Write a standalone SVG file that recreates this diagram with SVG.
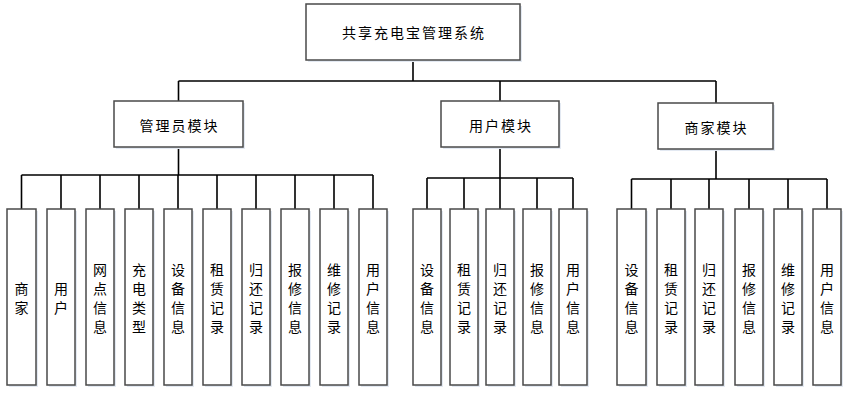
<svg xmlns="http://www.w3.org/2000/svg" width="852" height="399" viewBox="0 0 852 399">
<style>
.box{fill:#fff;stroke:#4a4a4a;stroke-width:1.5}
.sh{fill:#e3e9f2}
.ln{fill:none;stroke:#000;stroke-width:1.6}
text{font-family:"Noto Sans CJK SC","Noto Sans",sans-serif;font-size:14px;fill:#000;text-anchor:middle;dominant-baseline:central}
.h{letter-spacing:2px}
</style>
<rect width="852" height="399" fill="#fff"/>
<g id="connectors">
<path class="ln" d="M413 60V81M178.5 81H716M178.5 81V101M500 81V101M716 81V103"/>
<path class="ln" d="M178.5 147V175M21.5 175H373M21.5 175V209M61 175V209M100 175V209M139 175V209M178 175V209M217 175V209M256 175V209M295 175V209M334 175V209M373 175V209"/>
<path class="ln" d="M500 147V178M427 178H573M427 178V209M464 178V209M500 178V209M537 178V209M573 178V209"/>
<path class="ln" d="M716 149V179M631.5 179H827M631.5 179V209M671 179V209M709 179V209M749 179V209M788 179V209M827 179V209"/>
</g>
<g id="root"><rect class="sh" x="308" y="6" width="214" height="56"/><rect class="box" x="306" y="4" width="214" height="56"/><text class="h" x="414" y="32">共享充电宝管理系统</text></g>
<g id="admin"><rect class="sh" x="116" y="103" width="129" height="46"/><rect class="box" x="114" y="101" width="129" height="46"/><text class="h" x="179.5" y="125">管理员模块</text></g>
<g id="user"><rect class="sh" x="443" y="103" width="118" height="46"/><rect class="box" x="441" y="101" width="118" height="46"/><text class="h" x="501" y="125">用户模块</text></g>
<g id="merchant"><rect class="sh" x="660" y="105" width="115" height="46"/><rect class="box" x="658" y="103" width="115" height="46"/><text class="h" x="716.5" y="127">商家模块</text></g>

<g id="a1"><rect class="sh" x="9" y="211" width="29" height="176"/><rect class="box" x="7" y="209" width="29" height="176"/><text x="21.5" y="287.5">商<tspan x="21.5" dy="19">家</tspan></text></g>
<g id="a2"><rect class="sh" x="49" y="211" width="28" height="176"/><rect class="box" x="47" y="209" width="28" height="176"/><text x="61" y="287.5">用<tspan x="61" dy="19">户</tspan></text></g>
<g id="a3"><rect class="sh" x="88" y="211" width="28" height="176"/><rect class="box" x="86" y="209" width="28" height="176"/><text x="100" y="268.5">网<tspan x="100" dy="19">点</tspan><tspan x="100" dy="19">信</tspan><tspan x="100" dy="19">息</tspan></text></g>
<g id="a4"><rect class="sh" x="127" y="211" width="28" height="176"/><rect class="box" x="125" y="209" width="28" height="176"/><text x="139" y="268.5">充<tspan x="139" dy="19">电</tspan><tspan x="139" dy="19">类</tspan><tspan x="139" dy="19">型</tspan></text></g>
<g id="a5"><rect class="sh" x="166" y="211" width="28" height="176"/><rect class="box" x="164" y="209" width="28" height="176"/><text x="178" y="268.5">设<tspan x="178" dy="19">备</tspan><tspan x="178" dy="19">信</tspan><tspan x="178" dy="19">息</tspan></text></g>
<g id="a6"><rect class="sh" x="205" y="211" width="28" height="176"/><rect class="box" x="203" y="209" width="28" height="176"/><text x="217" y="268.5">租<tspan x="217" dy="19">赁</tspan><tspan x="217" dy="19">记</tspan><tspan x="217" dy="19">录</tspan></text></g>
<g id="a7"><rect class="sh" x="244" y="211" width="28" height="176"/><rect class="box" x="242" y="209" width="28" height="176"/><text x="256" y="268.5">归<tspan x="256" dy="19">还</tspan><tspan x="256" dy="19">记</tspan><tspan x="256" dy="19">录</tspan></text></g>
<g id="a8"><rect class="sh" x="283" y="211" width="28" height="176"/><rect class="box" x="281" y="209" width="28" height="176"/><text x="295" y="268.5">报<tspan x="295" dy="19">修</tspan><tspan x="295" dy="19">信</tspan><tspan x="295" dy="19">息</tspan></text></g>
<g id="a9"><rect class="sh" x="322" y="211" width="28" height="176"/><rect class="box" x="320" y="209" width="28" height="176"/><text x="334" y="268.5">维<tspan x="334" dy="19">修</tspan><tspan x="334" dy="19">记</tspan><tspan x="334" dy="19">录</tspan></text></g>
<g id="a10"><rect class="sh" x="361" y="211" width="28" height="176"/><rect class="box" x="359" y="209" width="28" height="176"/><text x="373" y="268.5">用<tspan x="373" dy="19">户</tspan><tspan x="373" dy="19">信</tspan><tspan x="373" dy="19">息</tspan></text></g>

<g id="u1"><rect class="sh" x="415" y="211" width="28" height="176"/><rect class="box" x="413" y="209" width="28" height="176"/><text x="427" y="268.5">设<tspan x="427" dy="19">备</tspan><tspan x="427" dy="19">信</tspan><tspan x="427" dy="19">息</tspan></text></g>
<g id="u2"><rect class="sh" x="452" y="211" width="28" height="176"/><rect class="box" x="450" y="209" width="28" height="176"/><text x="464" y="268.5">租<tspan x="464" dy="19">赁</tspan><tspan x="464" dy="19">记</tspan><tspan x="464" dy="19">录</tspan></text></g>
<g id="u3"><rect class="sh" x="488" y="211" width="28" height="176"/><rect class="box" x="486" y="209" width="28" height="176"/><text x="500" y="268.5">归<tspan x="500" dy="19">还</tspan><tspan x="500" dy="19">记</tspan><tspan x="500" dy="19">录</tspan></text></g>
<g id="u4"><rect class="sh" x="525" y="211" width="28" height="176"/><rect class="box" x="523" y="209" width="28" height="176"/><text x="537" y="268.5">报<tspan x="537" dy="19">修</tspan><tspan x="537" dy="19">信</tspan><tspan x="537" dy="19">息</tspan></text></g>
<g id="u5"><rect class="sh" x="561" y="211" width="28" height="176"/><rect class="box" x="559" y="209" width="28" height="176"/><text x="573" y="268.5">用<tspan x="573" dy="19">户</tspan><tspan x="573" dy="19">信</tspan><tspan x="573" dy="19">息</tspan></text></g>

<g id="m1"><rect class="sh" x="619" y="211" width="29" height="176"/><rect class="box" x="617" y="209" width="29" height="176"/><text x="631.5" y="268.5">设<tspan x="631.5" dy="19">备</tspan><tspan x="631.5" dy="19">信</tspan><tspan x="631.5" dy="19">息</tspan></text></g>
<g id="m2"><rect class="sh" x="659" y="211" width="28" height="176"/><rect class="box" x="657" y="209" width="28" height="176"/><text x="671" y="268.5">租<tspan x="671" dy="19">赁</tspan><tspan x="671" dy="19">记</tspan><tspan x="671" dy="19">录</tspan></text></g>
<g id="m3"><rect class="sh" x="697" y="211" width="28" height="176"/><rect class="box" x="695" y="209" width="28" height="176"/><text x="709" y="268.5">归<tspan x="709" dy="19">还</tspan><tspan x="709" dy="19">记</tspan><tspan x="709" dy="19">录</tspan></text></g>
<g id="m4"><rect class="sh" x="737" y="211" width="28" height="176"/><rect class="box" x="735" y="209" width="28" height="176"/><text x="749" y="268.5">报<tspan x="749" dy="19">修</tspan><tspan x="749" dy="19">信</tspan><tspan x="749" dy="19">息</tspan></text></g>
<g id="m5"><rect class="sh" x="776" y="211" width="28" height="176"/><rect class="box" x="774" y="209" width="28" height="176"/><text x="788" y="268.5">维<tspan x="788" dy="19">修</tspan><tspan x="788" dy="19">记</tspan><tspan x="788" dy="19">录</tspan></text></g>
<g id="m6"><rect class="sh" x="815" y="211" width="28" height="176"/><rect class="box" x="813" y="209" width="28" height="176"/><text x="827" y="268.5">用<tspan x="827" dy="19">户</tspan><tspan x="827" dy="19">信</tspan><tspan x="827" dy="19">息</tspan></text></g>
</svg>
